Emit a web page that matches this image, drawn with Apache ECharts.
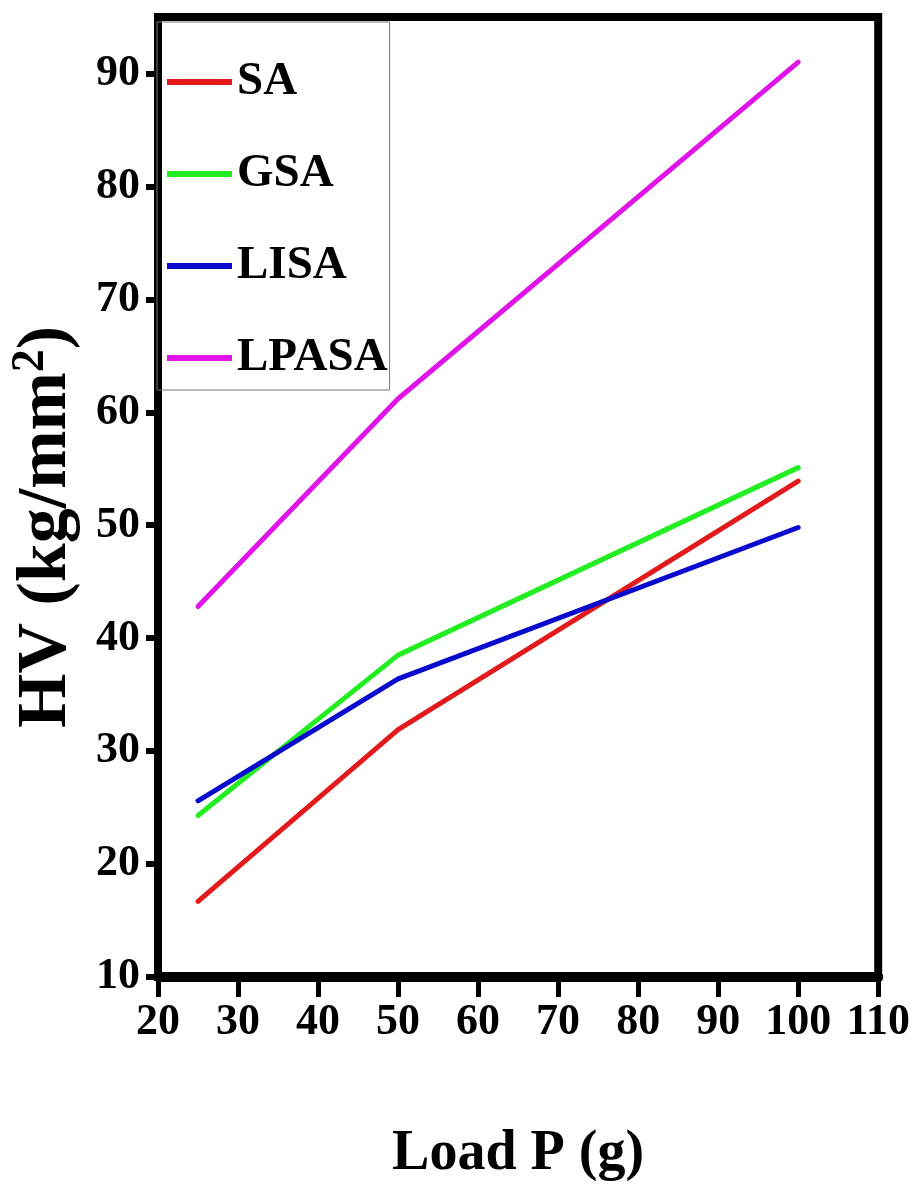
<!DOCTYPE html>
<html>
<head>
<meta charset="utf-8">
<script src="https://cdn.jsdelivr.net/npm/echarts@6/dist/echarts.min.js"></script>
<style>
html,body{margin:0;padding:0;background:#fff;}
#chart{width:913px;height:1188px;}
</style>
</head>
<body>
<div id="chart"></div>
<script>
var loads = [25, 50, 100];
var seriesNames = ['SA', 'GSA', 'LISA', 'LPASA'];
var SA = [16.7, 31.9, 53.9];
var GSA = [24.3, 38.5, 55.1];
var LISA = [25.6, 36.4, 49.8];
var LPASA = [42.8, 61.2, 91.0];
var xTicks = [20, 30, 40, 50, 60, 70, 80, 90, 100, 110];
var yTicks = [10, 20, 30, 40, 50, 60, 70, 80, 90];
var colors = ['#e31a1c', '#22ee22', '#0a0acc', '#e014e8'];

var FONT = "'Liberation Serif','Times New Roman',serif";
var values = [SA, GSA, LISA, LPASA];

function pairs(ys) { return loads.map(function (x, i) { return [x, ys[i]]; }); }

var chart = echarts.init(document.getElementById('chart'), null, {renderer: 'canvas'});
chart.setOption({
  animation: false,
  backgroundColor: '#fff',
  grid: {left: 150, right: 31, top: 17, bottom: 200, show: true, borderColor: '#000', borderWidth: 8, containLabel: false},
  legend: {
    orient: 'vertical', left: 157, top: 22,
    data: seriesNames,
    icon: 'rect', itemWidth: 65, itemHeight: 6, itemGap: 32, itemTextGap: 13,
    borderColor: '#777', borderWidth: 1, padding: [30, 2, 2, 10],
    textStyle: {fontFamily: FONT, fontWeight: 'bold', fontSize: 47, lineHeight: 60, color: '#000'}
  },
  xAxis: {
    type: 'value', min: 20, max: 110, interval: 10,
    name: 'Load P (g)', nameLocation: 'middle', nameGap: 150,
    nameTextStyle: {fontFamily: FONT, fontWeight: 'bold', fontSize: 56, color: '#000'},
    axisLine: {show: true, lineStyle: {color: '#000', width: 10}},
    axisTick: {show: true, inside: false, length: 20, lineStyle: {color: '#000', width: 5}, customValues: xTicks},
    axisLabel: {fontFamily: FONT, fontWeight: 'bold', fontSize: 44, color: '#000', margin: 24, customValues: xTicks},
    splitLine: {show: false}
  },
  yAxis: {
    type: 'value', min: 10, max: 95, interval: 10,
    name: 'HV (kg/mm{s|2})', nameLocation: 'middle', nameGap: 72, nameRotate: 90,
    nameTextStyle: {fontFamily: FONT, fontWeight: 'bold', fontSize: 70, color: '#000', padding: [0, 60, 0, 0],
      rich: {s: {fontFamily: FONT, fontWeight: 'bold', fontSize: 46, color: '#000', padding: [0, 0, 32, 0]}}},
    axisLine: {show: true, lineStyle: {color: '#000', width: 8}},
    axisTick: {show: true, inside: false, length: 12, lineStyle: {color: '#000', width: 6}, customValues: yTicks},
    axisLabel: {fontFamily: FONT, fontWeight: 'bold', fontSize: 44, color: '#000', margin: 18, customValues: yTicks},
    splitLine: {show: false}
  },
  series: seriesNames.map(function (n, i) {
    return {
      name: n, type: 'line', data: pairs(values[i]), symbol: 'none', showSymbol: false,
      lineStyle: {color: colors[i], width: 5, cap: 'round', join: 'round'},
      itemStyle: {color: colors[i]}
    };
  })
});
</script>
</body>
</html>
